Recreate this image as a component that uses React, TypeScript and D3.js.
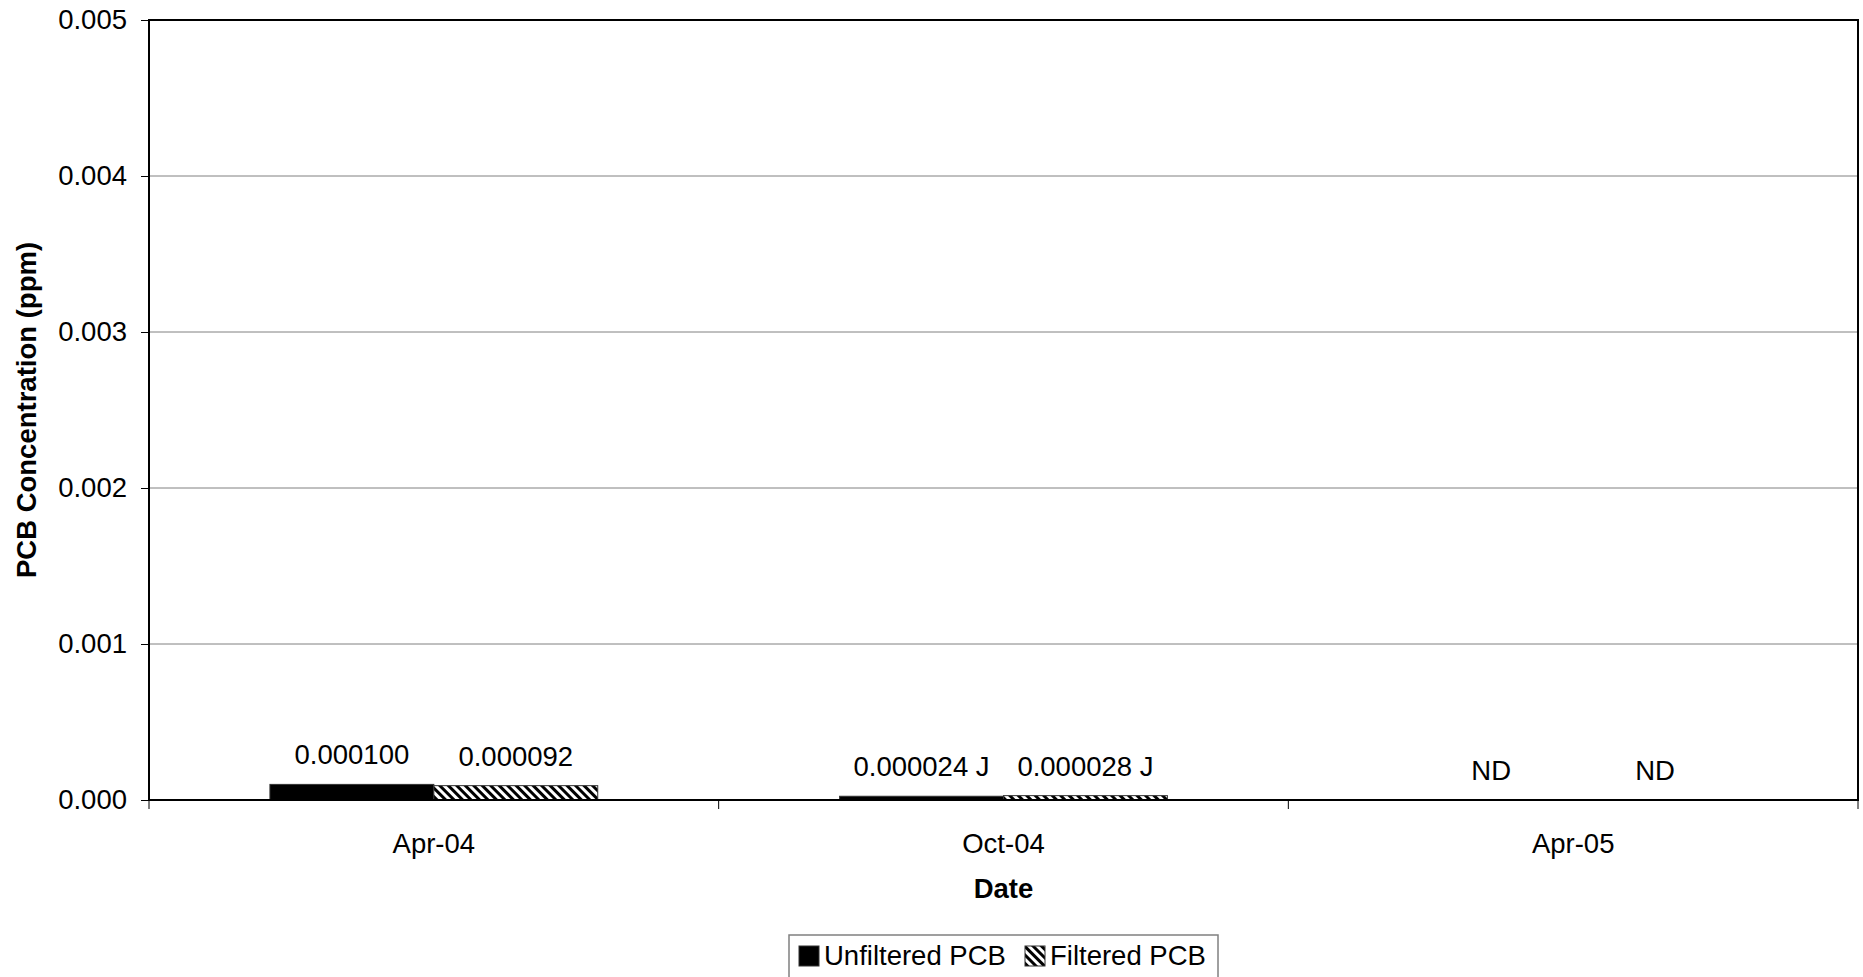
import React, { useEffect, useRef } from "react";
import * as d3 from "d3";

const categories = ["Apr-04", "Oct-04", "Apr-05"];
const seriesNames = ["Unfiltered PCB", "Filtered PCB"];
const unfiltered: (number | null)[] = [0.0001, 0.000024, null];
const filtered: (number | null)[] = [0.000092, 0.000028, null];
const unfilteredLabels = ["0.000100", "0.000024 J", "ND"];
const filteredLabels = ["0.000092", "0.000028 J", "ND"];
const yTicks = [0, 0.001, 0.002, 0.003, 0.004, 0.005];

const W = 1863;
const H = 977;
const FONT = "'Liberation Sans', Arial, Helvetica, sans-serif";
const FS = 27.5;

export default function App() {
  const ref = useRef<SVGSVGElement | null>(null);

  useEffect(() => {
    document.body.style.margin = "0";
    const svg = d3.select(ref.current);
    svg.selectAll("*").remove();

    const m = { left: 149, right: 1858, top: 20, bottom: 800 };

    const defs = svg.append("defs");
    const pat = defs
      .append("pattern")
      .attr("id", "hatch")
      .attr("patternUnits", "userSpaceOnUse")
      .attr("width", 6)
      .attr("height", 6)
      .attr("patternTransform", "rotate(-45)");
    pat.append("rect").attr("width", 6).attr("height", 6).attr("fill", "#fff");
    pat.append("rect").attr("width", 3).attr("height", 6).attr("fill", "#000");

    const x0 = d3
      .scaleBand<string>()
      .domain(categories)
      .range([m.left, m.right])
      .paddingInner(0)
      .paddingOuter(0);
    const bw = x0.bandwidth();
    const gap = 242 / 570;
    const x1 = d3
      .scaleBand<string>()
      .domain(seriesNames)
      .range([(bw * gap) / 2, bw - (bw * gap) / 2])
      .padding(0);
    const y = d3.scaleLinear().domain([0, 0.005]).range([m.bottom, m.top]);

    const g = svg.append("g");

    // gridlines
    g.selectAll("line.grid")
      .data(yTicks.slice(1))
      .enter()
      .append("line")
      .attr("x1", m.left)
      .attr("x2", m.right)
      .attr("y1", (d) => y(d))
      .attr("y2", (d) => y(d))
      .attr("stroke", "#808080")
      .attr("stroke-width", 1);

    // bars
    const series = [
      { name: seriesNames[0], values: unfiltered, labels: unfilteredLabels, fill: "#000" },
      { name: seriesNames[1], values: filtered, labels: filteredLabels, fill: "url(#hatch)" },
    ];
    series.forEach((s) => {
      categories.forEach((c, i) => {
        const v = s.values[i];
        const bx = (x0(c) as number) + (x1(s.name) as number);
        if (v != null) {
          g.append("rect")
            .attr("x", bx)
            .attr("y", y(v))
            .attr("width", x1.bandwidth())
            .attr("height", y(0) - y(v))
            .attr("fill", s.fill)
            .attr("stroke", "#333")
            .attr("stroke-width", 1);
        }
        g.append("text")
          .attr("x", bx + x1.bandwidth() / 2)
          .attr("y", y(v ?? 0) - 20)
          .attr("text-anchor", "middle")
          .attr("font-family", FONT)
          .attr("font-size", FS)
          .attr("fill", "#000")
          .text(s.labels[i]);
      });
    });

    // plot frame
    g.append("rect")
      .attr("x", m.left)
      .attr("y", m.top)
      .attr("width", m.right - m.left)
      .attr("height", m.bottom - m.top)
      .attr("fill", "none")
      .attr("stroke", "#000")
      .attr("stroke-width", 2);

    // y axis
    const yAxis = d3
      .axisLeft(y)
      .tickValues(yTicks)
      .tickFormat(d3.format(".3f"))
      .tickSize(8)
      .tickPadding(14);
    const ya = g.append("g").attr("transform", `translate(${m.left},0)`).call(yAxis);
    ya.select(".domain").remove();
    ya.selectAll("line").attr("stroke", "#000");
    ya.selectAll("text")
      .attr("font-family", FONT)
      .attr("font-size", FS)
      .attr("fill", "#000");

    // x axis ticks at band boundaries
    const bounds = categories.map((c) => x0(c) as number).concat([m.right]);
    g.selectAll("line.xt")
      .data(bounds)
      .enter()
      .append("line")
      .attr("x1", (d) => d)
      .attr("x2", (d) => d)
      .attr("y1", m.bottom)
      .attr("y2", m.bottom + 9)
      .attr("stroke", "#000")
      .attr("stroke-width", 1);
    g.selectAll("text.xl")
      .data(categories)
      .enter()
      .append("text")
      .attr("x", (d) => (x0(d) as number) + bw / 2)
      .attr("y", 853)
      .attr("text-anchor", "middle")
      .attr("font-family", FONT)
      .attr("font-size", FS)
      .text((d) => d);

    // axis titles
    g.append("text")
      .attr("x", (m.left + m.right) / 2)
      .attr("y", 898)
      .attr("text-anchor", "middle")
      .attr("font-family", FONT)
      .attr("font-size", FS)
      .attr("font-weight", "bold")
      .text("Date");
    g.append("text")
      .attr("transform", `translate(36,${(m.top + m.bottom) / 2}) rotate(-90)`)
      .attr("text-anchor", "middle")
      .attr("font-family", FONT)
      .attr("font-size", FS)
      .attr("font-weight", "bold")
      .text("PCB Concentration (ppm)");

    // legend
    const lg = svg.append("g");
    lg.append("rect")
      .attr("x", 789)
      .attr("y", 935)
      .attr("width", 429)
      .attr("height", 50)
      .attr("fill", "#fff")
      .attr("stroke", "#808080")
      .attr("stroke-width", 1.5);
    const items = [
      { name: seriesNames[0], fill: "#000", sx: 799 },
      { name: seriesNames[1], fill: "url(#hatch)", sx: 1025 },
    ];
    items.forEach((it) => {
      lg.append("rect")
        .attr("x", it.sx)
        .attr("y", 946)
        .attr("width", 20)
        .attr("height", 20)
        .attr("fill", it.fill)
        .attr("stroke", "#333")
        .attr("stroke-width", 1);
      lg.append("text")
        .attr("x", it.sx + 25)
        .attr("y", 965)
        .attr("font-family", FONT)
        .attr("font-size", FS)
        .text(it.name);
    });
  }, []);

  return (
    <svg
      ref={ref}
      width={W}
      height={H}
      style={{ display: "block", position: "absolute", left: 0, top: 0, background: "#fff" }}
    />
  );
}
